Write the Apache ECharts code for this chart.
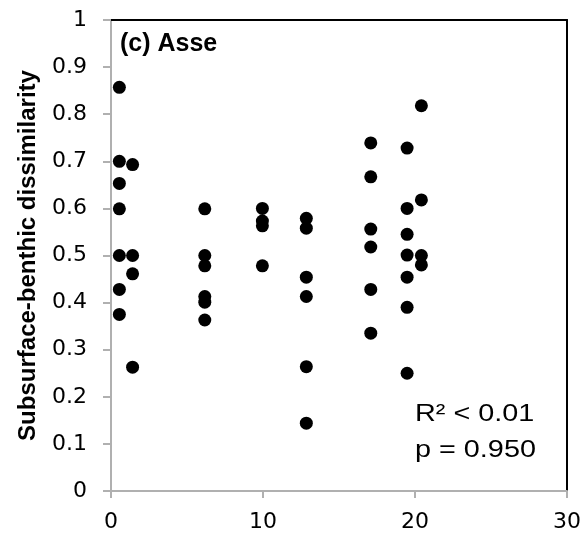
<!DOCTYPE html>
<html><head><meta charset="utf-8">
<script src="https://cdn.jsdelivr.net/npm/echarts@6/dist/echarts.min.js"></script>
<style>html,body{margin:0;padding:0;background:#fff}#c{width:584px;height:541px}</style>
</head><body><div id="c"></div>
<script>
// x positions (sites) and dissimilarity values
const xVals = [
  0.55,0.55,0.55,0.55,0.55,0.55,0.55,
  1.42,1.42,1.42,1.42,
  6.17,6.17,6.17,6.17,6.17,6.17,
  9.96,9.96,9.96,9.96,
  12.85,12.85,12.85,12.85,12.85,12.85,
  17.09,17.09,17.09,17.09,17.09,17.09,
  19.48,19.48,19.48,19.48,19.48,19.48,19.48,
  20.42,20.42,20.42,20.42
];
const yVals = [
  0.857,0.700,0.653,0.599,0.500,0.428,0.375,
  0.693,0.500,0.461,0.263,
  0.599,0.500,0.478,0.413,0.401,0.363,
  0.600,0.573,0.563,0.478,
  0.579,0.558,0.454,0.413,0.264,0.144,
  0.739,0.667,0.556,0.518,0.428,0.335,
  0.728,0.600,0.545,0.501,0.454,0.390,0.250,
  0.818,0.618,0.500,0.480
];
const xTicks = [0, 10, 20, 30];
const yTicks = [0,0.1,0.2,0.3,0.4,0.5,0.6,0.7,0.8,0.9,1];
const panelTitle = '(c) Asse';
const yName = 'Subsurface-benthic dissimilarity';
const statLines = ['R² < 0.01', 'p = 0.950'];

const FONT = '"Liberation Sans", Arial, sans-serif';
const TICKFONT = '"DejaVu Sans", "Liberation Sans", sans-serif';
const chart = echarts.init(document.getElementById('c'));
const gray = '#b0b0b0';
chart.setOption({
  animation: false,
  grid: {left: 111, right: 16, top: 20, bottom: 50},
  xAxis: [{
    type: 'value', min: xTicks[0], max: xTicks[xTicks.length-1], interval: 10,
    axisLine: {show: true, onZero: false, lineStyle: {color: gray, width: 2}},
    axisTick: {show: true, length: 7, lineStyle: {color: gray, width: 2}},
    splitLine: {show: false},
    axisLabel: {color: '#000', fontSize: 22, fontFamily: TICKFONT, margin: 20}
  }, {
    type: 'value', position: 'top', min: 0, max: 30,
    axisLine: {show: true, onZero: false, lineStyle: {color: '#000', width: 2}},
    axisTick: {show: false}, axisLabel: {show: false}, splitLine: {show: false}
  }],
  yAxis: [{
    type: 'value', min: yTicks[0], max: yTicks[yTicks.length-1], interval: 0.1,
    name: yName, nameLocation: 'middle', nameRotate: 90, nameGap: 71,
    nameTextStyle: {color: '#000', fontSize: 24, fontWeight: 'bold', fontFamily: FONT},
    axisLine: {show: true, onZero: false, lineStyle: {color: gray, width: 2}},
    axisTick: {show: true, length: 8, lineStyle: {color: gray, width: 2}},
    splitLine: {show: false},
    axisLabel: {color: '#000', fontSize: 22, fontFamily: TICKFONT, margin: 24,
      formatter: v => String(+(+v).toFixed(1))}
  }, {
    type: 'value', position: 'right', min: 0, max: 1,
    axisLine: {show: true, onZero: false, lineStyle: {color: '#000', width: 2}},
    axisTick: {show: false}, axisLabel: {show: false}, splitLine: {show: false}
  }],
  series: [{
    type: 'scatter', xAxisIndex: 0, yAxisIndex: 0,
    symbol: 'circle', symbolSize: 13,
    itemStyle: {color: '#000', opacity: 1},
    data: xVals.map((x, i) => [x, yVals[i]])
  }],
  graphic: [
    {type: 'text', left: 120, top: 32, style: {text: panelTitle, fill: '#000',
      font: 'bold 25px ' + FONT}},
    {type: 'text', x: 415, y: 402, scaleX: 1.2, style: {text: statLines[0], fill: '#000',
      font: '24px ' + FONT}},
    {type: 'text', x: 415, y: 438, scaleX: 1.2, style: {text: statLines[1], fill: '#000',
      font: '24px ' + FONT}}
  ]
});
</script></body></html>
